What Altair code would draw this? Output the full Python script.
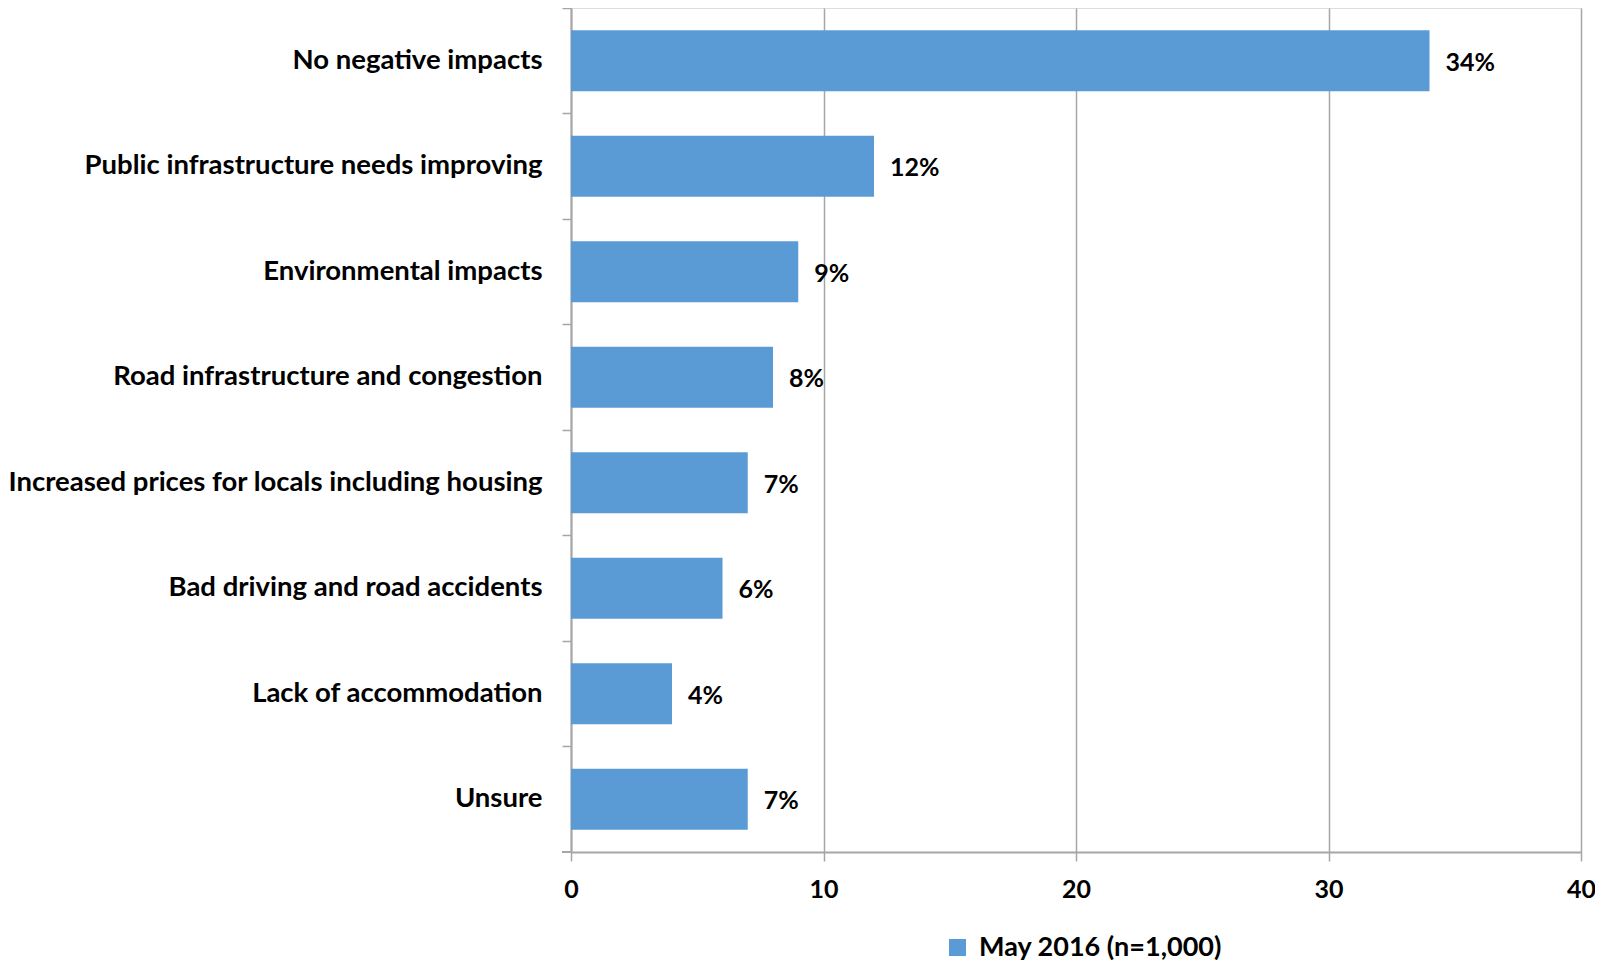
import altair as alt
import pandas as pd

categories = [
    "No negative impacts",
    "Public infrastructure needs improving",
    "Environmental impacts",
    "Road infrastructure and congestion",
    "Increased prices for locals including housing",
    "Bad driving and road accidents",
    "Lack of accommodation",
    "Unsure",
]
values = [34, 12, 9, 8, 7, 6, 4, 7]
series = "May 2016 (n=1,000)"
x_ticks = [0, 10, 20, 30, 40]

df = pd.DataFrame({"category": categories, "value": values, "series": [series] * len(values)})
df["label"] = [f"{v}%" for v in values]

FONT = "Lato"
W, H = 1010, 844
GRID = "#A6A6A6"

y_enc = alt.Y(
    "category:N",
    sort=categories,
    scale=alt.Scale(paddingInner=0, paddingOuter=0),
    axis=alt.Axis(
        title=None,
        labelFont=FONT,
        labelFontSize=27.5,
        labelFontWeight="bold",
        labelColor="#000000",
        labelPadding=20,
        tickSize=9,
        tickColor=GRID,
        tickWidth=1.5,
        bandPosition=0,
        domainColor=GRID,
        domainWidth=2,
        grid=False,
        labelLimit=700,
    ),
)
x_enc = alt.X(
    "value:Q",
    scale=alt.Scale(domain=[0, 40], nice=False),
    axis=alt.Axis(
        title=None,
        values=x_ticks,
        labelFont=FONT,
        labelFontSize=25,
        labelFontWeight="bold",
        labelColor="#000000",
        labelPadding=16,
        labelFlush=False,
        tickSize=9,
        tickColor=GRID,
        tickWidth=1.5,
        domainColor=GRID,
        domainWidth=2,
        grid=True,
        gridColor=GRID,
        gridWidth=1.5,
    ),
)

bars = alt.Chart(df).mark_bar(height={"band": 0.58}).encode(
    y=y_enc,
    x=x_enc,
    color=alt.Color(
        "series:N",
        scale=alt.Scale(range=["#5B9BD5"]),
        legend=alt.Legend(
            title=None,
            orient="none",
            legendX=373,
            legendY=926,
            symbolType="square",
            symbolSize=289,
            symbolStrokeWidth=0,
            labelFont=FONT,
            labelFontSize=27,
            labelFontWeight="bold",
            labelColor="#000000",
            labelLimit=500,
            labelOffset=8,
        ),
    ),
)

text = alt.Chart(df).mark_text(
    align="left", baseline="middle", dx=16, dy=2, font=FONT, fontSize=25, fontWeight="bold", color="#000000"
).encode(y=alt.Y("category:N", sort=categories), x=alt.X("value:Q"), text="label:N")

bottom_tick = alt.Chart(df).mark_rule(color=GRID, strokeWidth=1.5).encode(
    x=alt.value(-9), x2=alt.value(0), y=alt.value(H)
)

chart = alt.layer(bars, text, bottom_tick).properties(
    width=W,
    height=H,
    autosize=alt.AutoSizeParams(type="none"),
    padding={"left": 563, "top": 0, "right": 14, "bottom": 108},
).configure_view(
    fill="#F2F2F2", stroke=GRID, strokeWidth=2
).configure(background="#FFFFFF")

chart.save("out.html", embed_options={"renderer": "svg", "actions": False})
